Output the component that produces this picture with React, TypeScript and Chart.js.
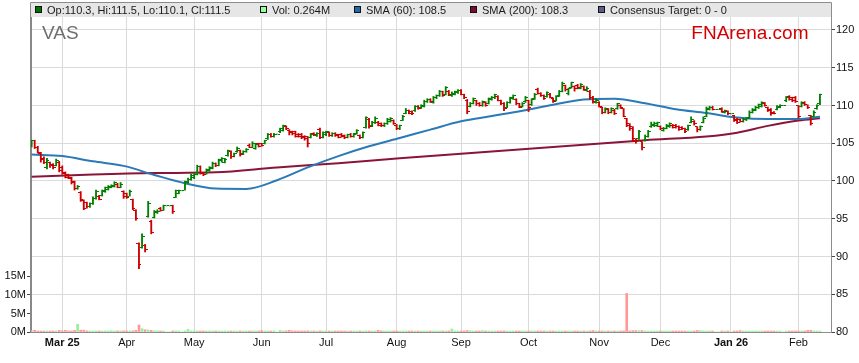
import React, { useEffect, useRef } from 'react';
import { Chart, registerables } from 'chart.js';

Chart.register(...registerables);

// ---------- categories ----------
const START_DATE = [2025, 1, 17]; // 17 Feb 2025 (UTC y, m0, d)
const N_DAYS = 258; // weekdays shown
const HOLIDAYS = ['2025-04-18', '2025-04-21', '2025-04-25', '2025-06-09', '2025-12-25', '2025-12-26', '2026-01-01', '2026-01-26'];
const MONTH_LABELS = ['Mar 25', 'Apr', 'May', 'Jun', 'Jul', 'Aug', 'Sep', 'Oct', 'Nov', 'Dec', 'Jan 26', 'Feb'];
const MONTH_BOLD = [true, false, false, false, false, false, false, false, false, false, true, false];

// ---------- series (A$) ----------
const OPEN = [
  104.6,105.3,104.5,103.7,103.0,101.8,102.4,102.2,102.1,102.5,
  101.8,101.0,100.8,100.3,99.9,99.0,98.5,97.4,97.1,96.6,
  97.0,97.7,98.0,98.1,98.6,98.9,99.2,99.3,99.6,99.2,
  98.6,98.3,98.0,97.5,96.1,91.7,91.2,91.5,95.3,94.7,
  95.2,95.8,96.4,96.1,96.7,96.7,96.7,97.8,98.4,98.7,
  98.8,99.8,100.2,100.5,100.9,101.9,101.0,100.9,101.4,101.7,
  102.3,102.1,102.7,102.5,103.4,103.9,103.3,103.9,104.0,103.6,
  103.9,104.7,104.5,104.3,104.9,104.9,105.0,105.6,106.2,105.9,
  106.2,106.5,106.7,107.2,106.7,106.5,106.5,106.1,106.2,105.9,
  105.9,105.8,106.3,106.0,106.8,105.8,106.1,106.4,106.0,106.3,
  106.1,106.2,106.0,105.8,106.2,105.9,106.3,106.0,105.8,107.1,
  108.2,107.3,107.8,107.8,107.6,107.3,107.6,107.9,108.0,107.4,
  106.9,108.0,109.0,109.3,109.2,109.3,109.9,109.7,109.9,110.5,
  110.8,110.4,111.0,111.3,111.8,111.5,111.9,111.3,111.5,111.7,
  112.0,111.4,110.7,109.9,110.3,110.6,110.3,110.0,110.4,110.3,
  110.8,111.0,111.2,110.6,110.3,109.8,110.4,110.9,110.8,110.2,
  109.9,110.5,110.6,110.1,110.9,112.1,111.6,111.3,111.2,111.5,
  110.9,110.7,111.3,111.9,112.6,111.6,112.4,112.5,112.7,112.3,
  112.5,112.0,111.9,111.1,110.4,110.4,109.8,109.1,109.5,109.1,
  109.4,109.6,110.0,109.6,108.3,107.6,107.2,105.6,105.6,105.2,
  105.4,105.9,107.2,107.3,107.3,107.2,106.7,107.0,107.2,107.4,
  107.4,107.2,107.1,106.9,106.8,107.8,107.9,107.2,106.8,107.8,
  108.5,109.5,109.8,109.5,109.5,109.6,109.1,109.2,108.9,108.7,
  108.2,108.1,107.9,108.1,108.4,109.1,109.4,109.7,109.9,110.3,
  109.7,109.5,109.1,109.5,109.8,110.0,110.6,111.2,111.0,111.1,
  110.0,109.9,110.4,110.1,108.7,108.6,109.6,110.3,
];
const HIGH = [
  105.4,105.4,104.6,103.8,103.2,103.0,102.5,102.3,102.9,102.6,
  102.0,101.2,100.9,100.5,100.0,99.4,98.6,97.5,97.2,97.1,
  97.9,98.8,98.1,98.8,99.2,99.4,99.5,99.9,99.7,99.8,
  98.7,98.4,98.8,97.6,96.2,91.8,93.0,91.6,97.3,94.8,
  96.1,96.2,96.5,96.8,96.7,96.7,96.8,98.8,98.8,98.7,
  100.0,100.4,100.9,101.1,102.1,102.0,101.1,101.6,101.9,102.5,
  102.4,102.9,103.1,103.0,104.1,104.0,103.7,104.5,104.1,104.0,
  104.3,104.9,105.2,105.0,105.0,105.0,105.4,106.3,106.3,106.3,
  106.2,107.0,107.4,107.3,106.8,106.6,106.6,106.3,106.3,106.0,
  105.9,106.3,106.4,106.4,107.0,106.5,106.6,106.5,106.4,106.4,
  106.2,106.3,106.1,106.2,106.3,106.3,106.8,106.1,106.5,108.5,
  108.3,107.9,108.5,107.9,107.7,107.7,108.3,108.4,108.1,107.5,
  107.4,108.7,109.6,109.4,109.3,110.0,110.0,110.1,110.7,110.9,
  110.9,111.2,111.4,112.0,111.9,112.5,112.0,111.8,111.9,112.1,
  112.1,111.5,110.8,110.4,111.0,110.7,110.4,110.6,110.5,111.0,
  111.2,111.5,111.3,110.7,110.4,110.5,111.1,111.4,110.9,110.3,
  110.4,111.2,110.7,110.9,111.6,112.3,111.7,111.4,111.8,111.6,
  111.0,111.3,112.0,113.1,112.7,112.3,113.1,112.6,112.8,112.9,
  112.6,112.5,112.0,111.2,110.9,110.5,109.8,109.7,109.6,109.7,
  109.5,110.3,110.1,109.6,108.3,107.6,107.2,105.6,106.7,105.2,
  106.1,106.7,107.8,107.8,107.8,107.3,107.1,107.5,107.7,107.5,
  107.5,107.3,107.2,107.0,107.4,108.5,108.0,107.2,107.3,108.5,
  109.8,109.9,109.9,109.5,109.5,109.7,109.4,109.3,108.9,108.7,
  108.3,108.2,108.3,108.4,109.3,109.6,109.9,110.2,110.5,110.4,
  109.8,109.6,109.2,110.0,110.1,110.0,111.2,111.3,111.1,111.2,
  110.0,110.5,110.5,110.1,108.7,109.3,110.1,111.5,
];
const LOW = [
  104.5,104.3,103.7,102.5,102.3,101.6,101.8,101.6,102.0,101.2,
  100.9,100.4,100.3,99.6,98.8,98.9,97.3,96.2,96.4,96.5,
  96.9,97.6,97.5,98.0,98.5,98.8,99.1,99.2,99.1,99.1,
  97.7,97.7,98.0,96.2,94.8,88.4,91.1,90.6,95.2,93.0,
  95.1,95.7,96.0,96.1,96.7,96.7,95.7,97.8,98.3,98.7,
  98.8,99.7,100.1,100.3,100.8,100.9,100.7,100.9,101.3,101.6,
  101.9,102.0,102.5,102.4,103.3,103.0,103.2,103.8,103.3,103.5,
  103.8,104.4,104.4,104.2,104.5,104.6,104.9,105.5,105.8,105.8,
  106.2,106.4,106.6,106.8,106.1,106.1,105.8,105.8,105.6,105.4,
  104.5,105.7,106.0,105.9,105.6,105.7,106.0,105.9,105.9,105.9,
  105.7,105.8,105.6,105.7,105.8,105.8,106.2,105.6,105.7,107.0,
  107.0,107.2,107.6,107.3,107.2,107.2,107.5,107.8,107.5,106.8,
  106.8,108.0,108.9,108.9,108.8,109.2,109.5,109.6,109.8,110.4,
  110.4,110.3,110.9,111.2,111.2,111.4,111.3,111.2,111.4,111.6,
  111.4,110.9,108.9,109.8,110.2,110.0,109.9,109.9,109.9,110.2,
  110.7,110.9,110.6,110.1,109.3,109.7,110.3,110.8,110.1,109.7,
  109.8,110.4,109.2,110.0,110.8,111.5,111.2,110.8,111.1,111.0,
  110.4,110.6,111.2,111.8,111.9,111.4,112.3,111.9,112.2,112.2,
  112.0,111.9,110.8,110.3,110.3,109.8,108.9,109.0,108.9,109.0,
  108.8,109.5,109.6,108.5,107.2,106.7,105.2,105.0,105.5,104.1,
  105.3,105.8,107.1,107.2,107.2,106.8,106.6,106.9,107.1,107.0,
  107.0,106.7,106.8,106.4,106.7,107.7,107.4,106.5,106.7,107.7,
  108.5,109.4,109.4,109.5,109.5,109.1,109.0,108.8,108.9,107.9,
  107.6,107.8,107.8,108.0,108.3,109.0,109.3,109.6,109.8,109.9,
  109.2,108.7,108.9,109.4,109.7,110.0,110.5,110.7,110.5,110.4,
  108.3,109.8,110.0,109.6,107.4,108.5,109.5,110.1,
];
const CLOSE = [
  105.3,104.5,103.8,102.8,102.4,102.7,102.0,101.8,102.7,101.4,
  101.1,100.5,100.4,99.8,99.0,99.3,97.5,96.4,96.6,97.0,
  97.7,98.6,97.6,98.7,99.1,99.3,99.4,99.8,99.2,99.6,
  97.9,97.8,98.6,96.4,95.0,89.0,92.7,90.9,97.0,93.2,
  95.9,96.0,96.1,96.7,96.7,96.7,95.9,98.7,98.7,98.7,
  99.9,100.2,100.7,100.9,101.9,101.0,100.8,101.5,101.8,102.3,
  102.0,102.8,103.0,102.9,104.0,103.3,103.6,104.3,103.5,103.9,
  104.2,104.5,105.0,104.8,104.6,104.7,105.3,106.1,105.9,106.2,
  106.2,106.9,107.3,106.9,106.4,106.3,105.9,105.9,105.8,105.6,
  104.9,106.2,106.1,106.3,105.7,106.4,106.5,106.0,106.3,106.0,
  105.8,105.9,105.7,106.1,105.9,106.2,106.7,105.7,106.4,108.4,
  107.2,107.8,108.3,107.4,107.3,107.6,108.2,108.3,107.6,107.0,
  107.3,108.5,109.4,109.0,108.9,109.9,109.6,110.0,110.5,110.8,
  110.5,111.0,111.3,111.9,111.3,112.4,111.4,111.6,111.8,112.0,
  111.5,111.1,109.2,110.3,110.9,110.2,110.0,110.5,110.0,110.9,
  111.1,111.4,110.7,110.2,109.6,110.4,111.0,111.3,110.2,109.8,
  110.3,111.1,109.7,110.8,111.5,111.6,111.3,110.9,111.7,111.1,
  110.5,111.2,111.9,112.9,112.1,112.2,113.0,112.2,112.4,112.8,
  112.1,112.3,111.0,110.5,110.7,109.9,109.1,109.6,109.1,109.6,
  108.9,110.2,109.7,108.6,107.4,106.9,105.4,105.2,106.5,104.4,
  105.9,106.5,107.5,107.6,107.7,106.9,107.0,107.4,107.6,107.1,
  107.2,106.8,106.9,106.5,107.3,108.2,107.6,106.8,107.2,108.3,
  109.6,109.8,109.5,109.5,109.5,109.2,109.3,108.9,108.9,108.0,
  107.8,107.9,108.2,108.3,109.1,109.5,109.8,110.1,110.4,110.0,
  109.3,108.9,109.0,109.9,110.0,110.0,111.1,110.8,110.6,110.5,
  108.5,110.3,110.1,109.8,107.6,109.1,110.0,111.5,
];
// volume, millions of units
const VOLUME = [
  0.30,0.45,0.28,0.27,0.26,0.30,0.27,0.28,0.30,0.45,
  0.30,0.45,0.28,0.30,0.45,2.10,0.50,0.50,0.30,0.28,
  0.27,0.30,0.28,0.27,0.30,0.28,0.35,0.27,0.30,0.28,
  0.30,0.28,0.30,0.30,0.45,1.90,0.90,0.60,0.55,0.45,
  0.30,0.30,0.28,0.27,0,0,0.28,0.30,0.27,0,
  0.30,0.70,0.30,0.28,0.30,0.27,0.28,0.27,0.30,0.28,
  0.27,0.28,0.27,0.30,0.28,0.27,0.28,0.26,0.28,0.27,
  0.28,0.27,0.30,0.28,0.27,0.40,0.28,0.30,0.27,0.28,
  0,0.45,0.28,0.30,0.45,0.30,0.28,0.27,0.28,0.27,
  0.30,0.28,0.27,0.28,0.30,0.28,0.27,0.28,0.27,0.28,
  0.27,0.28,0.27,0.28,0.27,0.28,0.27,0.28,0.27,0.30,
  0.28,0.27,0.28,0.45,0.30,0.28,0.27,0.28,0.27,0.28,
  0.27,0.28,0.30,0.28,0.27,0.28,0.27,0.28,0.27,0.28,
  0.27,0.28,0.27,0.28,0.27,0.28,0.30,0.80,0.30,0.28,
  0.27,0.28,0.40,0.35,0.28,0.27,0.28,0.38,0.27,0.28,
  0.27,0.28,0.27,0.28,0.30,0.28,0.27,0.28,0.27,0.28,
  0.27,0.28,0.27,0.28,0.27,0.28,0.27,0.28,0.27,0.28,
  0.27,0.28,0.27,0.28,0.27,0.28,0.27,0.28,0.27,0.28,
  0.27,0.28,0.27,0.40,0.28,0.27,0.28,0.27,0.28,0.27,
  0.28,0.27,0.28,0.30,10.40,0.30,0.38,0.38,0.35,0.38,
  0.28,0.27,0.28,0.27,0.28,0.27,0.28,0.27,0.28,0.27,
  0.28,0.27,0.28,0.27,0.28,0.27,0.28,0.40,0.38,0.28,
  0.27,0.28,0.27,0,0,0.28,0.27,0.28,0,0.27,
  0.28,0.38,0.28,0.27,0.28,0.27,0.28,0.27,0.28,0.27,
  0.28,0.27,0.28,0.27,0.28,0,0.27,0.28,0.27,0.28,
  0.27,0.28,0.27,0.45,0.45,0.28,0.27,0.264,
];
// moving averages, sampled at trading-day positions
const SMA60_AT = [0, 10, 20, 30, 40, 50, 60, 70, 80, 90, 100, 110, 120, 130, 140, 150, 160, 170, 180, 190, 200, 210, 220, 230, 240, 250, 257];
const SMA60 = [103.5, 103.3, 102.6, 102.0, 100.8, 99.7, 99.0, 98.95, 100.1, 101.8, 103.3, 104.6, 105.7, 106.8, 107.9, 108.6, 109.3, 110.1, 110.8, 110.9, 110.3, 109.5, 109.0, 108.4, 108.2, 108.2, 108.5];
const SMA200_AT = [0, 20, 40, 60, 80, 100, 120, 140, 160, 180, 200, 220, 230, 240, 250, 257];
const SMA200 = [100.55, 100.85, 101.05, 101.15, 101.8, 102.35, 103.0, 103.6, 104.2, 104.8, 105.4, 105.9, 106.4, 107.3, 108.0, 108.3];

const PRICE_TICKS = [80, 85, 90, 95, 100, 105, 110, 115, 120];
const VOL_TICKS = [0, 5, 10, 15];

const GREEN = '#008000';
const RED = '#cc0000';
const VOL_GREEN = '#99ee99';
const VOL_RED = '#ff9999';
const BLUE = '#2a7ab8';
const MAROON = '#8a1538';
const FONT = '"Liberation Sans", Arial, sans-serif';

function pad2(n: number) { return n < 10 ? '0' + n : '' + n; }

function buildTradingDays(): string[] {
  const out: string[] = [];
  const d = new Date(Date.UTC(START_DATE[0], START_DATE[1], START_DATE[2]));
  while (out.length < N_DAYS) {
    const wd = d.getUTCDay();
    if (wd !== 0 && wd !== 6) {
      out.push(`${d.getUTCFullYear()}-${pad2(d.getUTCMonth() + 1)}-${pad2(d.getUTCDate())}`);
    }
    d.setUTCDate(d.getUTCDate() + 1);
  }
  return out;
}

function tickImage(color: string, side: 'left' | 'right'): HTMLCanvasElement {
  const c = document.createElement('canvas');
  c.width = 5;
  c.height = 1;
  const g = c.getContext('2d')!;
  g.fillStyle = color;
  g.fillRect(side === 'left' ? 0 : 3, 0, 2, 1);
  return c;
}

export default function App() {
  const ref = useRef<HTMLCanvasElement>(null);

  useEffect(() => {
    const canvas = ref.current;
    if (!canvas) return;
    Chart.defaults.font.family = FONT;

    const days = buildTradingDays();
    const monthTicks: number[] = [];
    for (let i = 1; i < days.length; i++) {
      if (days[i].slice(0, 7) !== days[i - 1].slice(0, 7)) monthTicks.push(i);
    }
    const idx = CLOSE.map((_, i) => i);
    const up = idx.map((i) => CLOSE[i] >= OPEN[i]);
    const imgs = {
      lg: tickImage(GREEN, 'left'), lr: tickImage(RED, 'left'),
      rg: tickImage(GREEN, 'right'), rr: tickImage(RED, 'right'),
    };
    const last = CLOSE.length - 1;
    const legendItems = [
      { x: 35, color: '#007000', text: `Op:${OPEN[last]}, Hi:${HIGH[last]}, Lo:${LOW[last]}, Cl:${CLOSE[last]}` },
      { x: 260, color: '#99ff99', text: `Vol: ${VOLUME[last].toFixed(3)}M` },
      { x: 354, color: '#1e6aa6', text: `SMA (60): ${SMA60[SMA60.length - 1]}` },
      { x: 470, color: '#7a0c2c', text: `SMA (200): ${SMA200[SMA200.length - 1]}` },
      { x: 598, color: '#5c5c8e', text: 'Consensus Target: 0 - 0' },
    ];

    const overlay = {
      id: 'overlay',
      beforeDatasetsDraw(chart: any) {
        chart.ctx.imageSmoothingEnabled = false;
      },
      afterDraw(chart: any) {
        const ctx = chart.ctx as CanvasRenderingContext2D;
        const a = chart.chartArea;
        ctx.save();
        // legend band
        ctx.fillStyle = '#e6e6e6';
        ctx.fillRect(a.left, 3, a.right - a.left, a.top - 3);
        ctx.strokeStyle = '#8c8c8c';
        ctx.lineWidth = 1;
        ctx.beginPath();
        ctx.moveTo(a.left - 0.5, a.top);
        ctx.lineTo(a.left - 0.5, 2.5);
        ctx.lineTo(a.right + 0.5, 2.5);
        ctx.lineTo(a.right + 0.5, a.top);
        ctx.stroke();
        ctx.font = `11px ${FONT}`;
        ctx.textBaseline = 'alphabetic';
        ctx.textAlign = 'left';
        for (const it of legendItems) {
          ctx.fillStyle = it.color;
          ctx.fillRect(it.x + 0.5, 6.5, 6, 6);
          ctx.strokeStyle = '#111';
          ctx.strokeRect(it.x + 0.5, 6.5, 6, 6);
          ctx.fillStyle = '#1a1a1a';
          ctx.fillText(it.text, it.x + 12, 14);
        }
        // watermark texts
        ctx.font = `19px ${FONT}`;
        ctx.fillStyle = '#6e6e6e';
        ctx.fillText('VAS', 42, 38.5);
        ctx.textAlign = 'right';
        ctx.fillStyle = '#d40000';
        ctx.fillText('FNArena.com', 808.5, 38.5);
        ctx.restore();
      },
    };

    const chart = new Chart(canvas, {
      type: 'bar',
      data: {
        datasets: [
          {
            type: 'bar', label: 'Vol', yAxisID: 'yv',
            data: idx.map((i) => ({ x: i, y: VOLUME[i] })),
            backgroundColor: up.map((u) => (u ? VOL_GREEN : VOL_RED)),
            barThickness: 2, grouped: false, order: 10,
          },
          {
            type: 'line', label: 'SMA (200)', yAxisID: 'y',
            data: SMA200_AT.map((x, k) => ({ x, y: SMA200[k] })),
            borderColor: MAROON, borderWidth: 2, pointRadius: 0,
            cubicInterpolationMode: 'monotone', order: 6,
          },
          {
            type: 'line', label: 'SMA (60)', yAxisID: 'y',
            data: SMA60_AT.map((x, k) => ({ x, y: SMA60[k] })),
            borderColor: BLUE, borderWidth: 2, pointRadius: 0,
            cubicInterpolationMode: 'monotone', order: 5,
          },
          {
            type: 'bar', label: 'Range', yAxisID: 'y',
            data: idx.map((i) => ({ x: i, y: [LOW[i], HIGH[i]] })),
            backgroundColor: up.map((u) => (u ? GREEN : RED)),
            barThickness: 1.2, grouped: false, order: 3,
          },
          {
            type: 'line', label: 'Open', yAxisID: 'y', showLine: false,
            data: idx.map((i) => ({ x: i, y: OPEN[i] })),
            pointStyle: up.map((u) => (u ? imgs.lg : imgs.lr)),
            pointRadius: 1, order: 2,
          },
          {
            type: 'line', label: 'Close', yAxisID: 'y', showLine: false,
            data: idx.map((i) => ({ x: i, y: CLOSE[i] })),
            pointStyle: up.map((u) => (u ? imgs.rg : imgs.rr)),
            pointRadius: 1, order: 1,
          },
        ] as any,
      },
      options: {
        animation: false,
        responsive: false,
        maintainAspectRatio: false,
        devicePixelRatio: 1,
        events: [],
        layout: { padding: { top: 17, left: 0, right: 0, bottom: 0 } },
        plugins: { legend: { display: false }, tooltip: { enabled: false }, title: { display: false } },
        scales: {
          x: {
            type: 'linear', min: -0.2, max: 260.6, offset: false,
            grid: { color: '#dadada', lineWidth: 1, drawTicks: false, offset: false },
            border: { color: '#8c8c8c', width: 1 },
            ticks: {
              autoSkip: false, maxRotation: 0, padding: 4, color: '#111',
              font: (ctx: any) => ({ family: FONT, size: 11, weight: MONTH_BOLD[ctx.index] ? 'bold' : 'normal' }),
              callback: (_v: any, i: number) => MONTH_LABELS[i],
            },
            afterBuildTicks: (axis: any) => { axis.ticks = monthTicks.map((v) => ({ value: v })); },
            afterFit: (axis: any) => { axis.height = 31; },
          },
          y: {
            type: 'linear', position: 'right', min: 80, max: 121.72,
            grid: { color: '#dadada', lineWidth: 1, tickLength: 4, tickColor: '#444' },
            border: { color: '#8c8c8c', width: 1 },
            ticks: { padding: 1, color: '#111', font: { family: FONT, size: 11 } },
            afterBuildTicks: (axis: any) => { axis.ticks = PRICE_TICKS.map((v) => ({ value: v })); },
            afterFit: (axis: any) => { axis.width = 28; },
          },
          yv: {
            type: 'linear', position: 'left', min: 0, max: 85,
            grid: { drawOnChartArea: false, tickLength: 4, tickColor: '#444' },
            border: { color: '#888888', width: 2 },
            ticks: { padding: 1, color: '#111', font: { family: FONT, size: 11 }, callback: (v: any) => `${v}M` },
            afterBuildTicks: (axis: any) => { axis.ticks = VOL_TICKS.map((v) => ({ value: v })); },
            afterFit: (axis: any) => { axis.width = 31; },
          },
        },
      } as any,
      plugins: [overlay],
    });

    return () => chart.destroy();
  }, []);

  return (
    <div style={{ position: 'fixed', left: 0, top: 0, width: 859, height: 363, background: '#fff' }}>
      <canvas ref={ref} width={859} height={363} style={{ display: 'block', width: 859, height: 363 }} />
    </div>
  );
}
